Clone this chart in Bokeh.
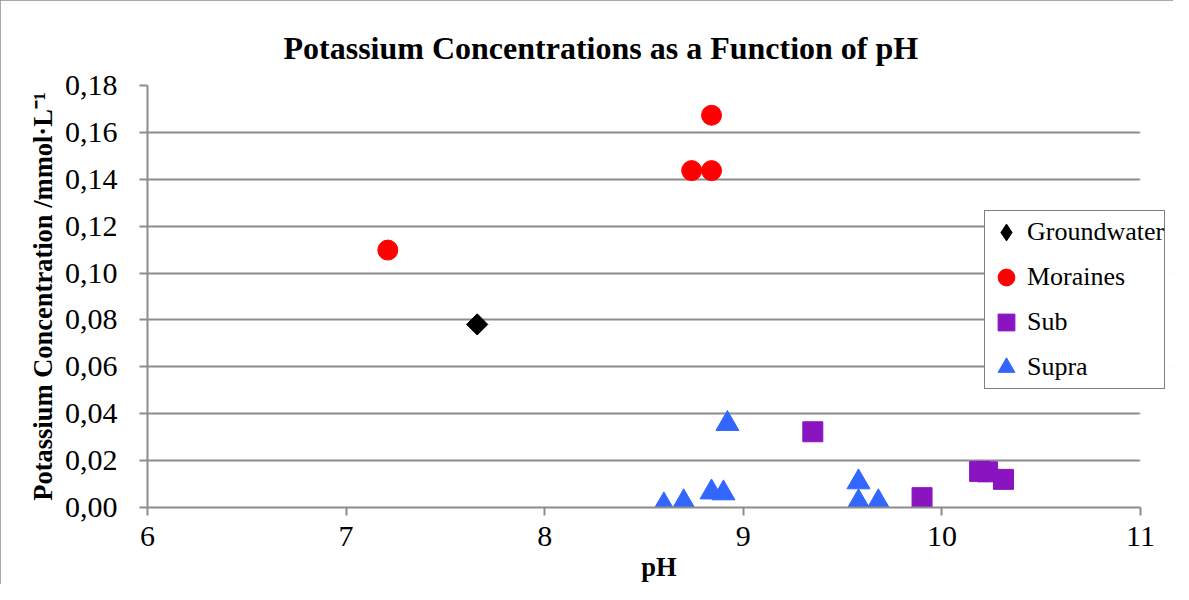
import math
from bokeh.plotting import figure
from bokeh.models import (Legend, LegendItem, FixedTicker, CustomJSTickFormatter,
                          Range1d, BoxAnnotation)
from bokeh.embed import file_html
from bokeh.resources import INLINE

# ---- data ----
groundwater_ph = [7.66]
groundwater_k = [0.0781]
moraines_ph = [7.21, 8.74, 8.84, 8.84]
moraines_k = [0.1098, 0.1437, 0.1437, 0.1673]
sub_ph = [9.35, 9.90, 10.19, 10.23, 10.31]
sub_k = [0.0323, 0.0042, 0.0154, 0.0152, 0.0120]
supra_ph = [8.92, 8.60, 8.70, 8.84, 8.90, 9.58, 9.58, 9.68]
supra_k = [0.0357, 0.0010, 0.0023, 0.0065, 0.0061, 0.0108, 0.0023, 0.0023]
series_names = ["Groundwater", "Moraines", "Sub", "Supra"]
x_ticks = [6, 7, 8, 9, 10, 11]
y_ticks = [0.00, 0.02, 0.04, 0.06, 0.08, 0.10, 0.12, 0.14, 0.16, 0.18]
title_text = "Potassium Concentrations as a Function of pH"
x_label = "pH"
y_label = "Potassium Concentration /mmol\u00b7L\u207b\u00b9"

FONT = "Liberation Serif"
GRID = "#8c8c8c"
X_MIN, X_MAX = 6, 11
X_VIEW_MAX = 11.151   # frame extends a little past 11 so the legend fits inside

p = figure(width=1173, height=584, output_backend="svg", toolbar_location=None,
           x_range=Range1d(X_MIN, X_VIEW_MAX), y_range=Range1d(0, 0.18),
           min_border_left=147, min_border_right=3, min_border_top=85,
           min_border_bottom=76, title=title_text)
p.outline_line_color = None
p.background_fill_color = "white"
p.border_fill_color = "white"
p.styles = {"outline": "2px solid #8c8c8c", "outline-offset": "-2px"}

# title
p.title.align = "left"
p.title.offset = 136
p.title.text_font = FONT
p.title.text_font_size = "32px"
p.title.text_font_style = "bold"
p.title.text_color = "black"
p.title.standoff = 40

# axes
p.xaxis.ticker = FixedTicker(ticks=x_ticks)
p.yaxis.ticker = FixedTicker(ticks=y_ticks)
p.yaxis.formatter = CustomJSTickFormatter(code="return tick.toFixed(2).replace('.', ',');")
p.xaxis.bounds = (X_MIN, X_MAX)
for ax in (p.xaxis[0], p.yaxis[0]):
    ax.axis_line_color = GRID
    ax.axis_line_width = 2
    ax.major_tick_line_color = GRID
    ax.major_tick_line_width = 2
    ax.major_tick_in = 0
    ax.major_tick_out = 8
    ax.minor_tick_line_color = None
    ax.major_label_text_font = FONT
    ax.major_label_text_font_size = "30px"
    ax.major_label_text_color = "black"
    ax.axis_label_text_font = FONT
    ax.axis_label_text_font_size = "26.5px"
    ax.axis_label_text_font_style = "bold"
    ax.axis_label_text_color = "black"
p.xaxis.axis_label = x_label
p.yaxis.axis_label = y_label
p.xaxis.major_label_standoff = 11
p.xaxis.axis_label_standoff = 3
p.yaxis.major_label_standoff = 22
p.yaxis.axis_label_standoff = 4

p.xgrid.grid_line_color = None
p.ygrid.grid_line_color = GRID
p.ygrid.grid_line_width = 2

# white mask over the frame strip beyond x = 11 (hides grid lines there)
p.add_layout(BoxAnnotation(left=X_MAX, right=X_VIEW_MAX + 1, fill_color="white",
                           fill_alpha=1, line_color="white", line_width=3,
                           level="underlay"))

# glyphs
r_gw = p.scatter(groundwater_ph, groundwater_k, marker="square", size=15,
                 angle=math.pi / 4, fill_color="black", line_color="black")
# legend proxy (diamond shape, hidden inside the rotated square above)
r_gw_leg = p.scatter(groundwater_ph, groundwater_k, marker="diamond", size=14,
                     fill_color="black", line_color="black")
r_mo = p.scatter(moraines_ph, moraines_k, marker="circle", size=20,
                 fill_color="#ff0000", line_color="#ff0000")
r_sub = p.scatter(sub_ph, sub_k, marker="square", size=20,
                  fill_color="#8a14c0", line_color="#8a14c0")
r_sup = p.scatter(supra_ph, supra_k, marker="triangle", size=23,
                  fill_color="#3366ff", line_color="#3366ff")

legend = Legend(items=[LegendItem(label=series_names[0], renderers=[r_gw_leg]),
                       LegendItem(label=series_names[1], renderers=[r_mo]),
                       LegendItem(label=series_names[2], renderers=[r_sub]),
                       LegendItem(label=series_names[3], renderers=[r_sup])],
                location=(837, 118))
legend.label_text_font = FONT
legend.label_text_font_size = "26px"
legend.label_text_color = "black"
legend.glyph_width = 42
legend.glyph_height = 42
legend.label_height = 31
legend.label_standoff = 0
legend.spacing = 3
legend.padding = 0
legend.margin = 0
legend.border_line_color = "black"
legend.border_line_width = 1.5
legend.background_fill_color = "white"
legend.background_fill_alpha = 1
p.add_layout(legend, "center")

open("out.html", "w").write(file_html(p, INLINE))
